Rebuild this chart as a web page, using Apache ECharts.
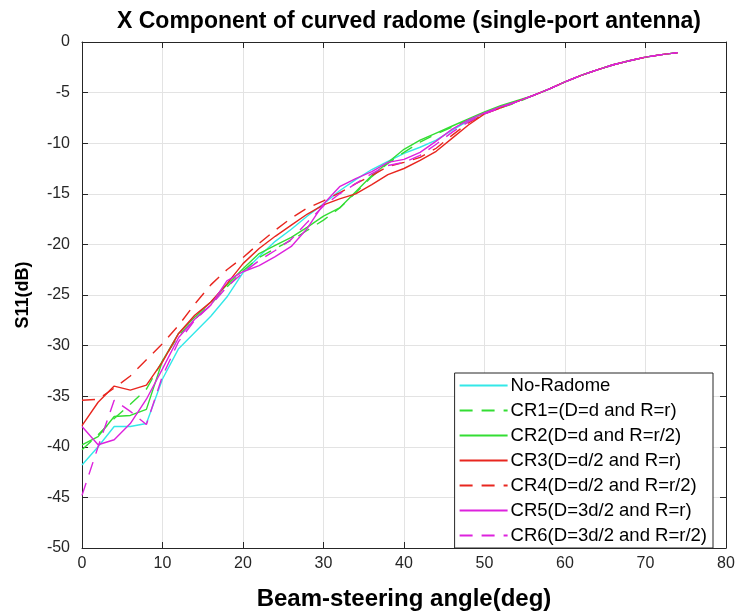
<!DOCTYPE html>
<html>
<head>
<meta charset="utf-8">
<script src="https://cdn.jsdelivr.net/npm/echarts@6/dist/echarts.min.js"></script>
<style>html,body{margin:0;padding:0;background:#fff;}#chart{width:740px;height:616px;}</style>
</head>
<body>
<div id="chart"></div>
<script>
const angles = [0,2,4,6,8,10,12,14,16,18,20,22,24,26,28,30,32,34,36,38,40,42,44,46,48,50,52,54,56,58,60,62,64,66,68,70,72,74];
const noRadome = [-41.8,-40.0,-38.0,-38.0,-37.7,-33.3,-30.3,-28.7,-27.1,-25.2,-22.8,-21.2,-19.7,-18.5,-17.2,-16.0,-14.7,-13.6,-12.6,-11.8,-11.0,-10.4,-9.7,-8.7,-7.8,-7.0,-6.4,-5.9,-5.3,-4.65,-3.95,-3.3,-2.75,-2.25,-1.85,-1.5,-1.25,-1.05];
const cr1 = [-40.3,-38.8,-37.2,-35.8,-34.3,-31.5,-29.0,-27.4,-25.9,-24.2,-22.6,-21.3,-20.4,-19.6,-18.6,-17.6,-16.4,-14.9,-13.3,-12.0,-10.9,-9.9,-9.1,-8.4,-7.7,-7.0,-6.5,-6.0,-5.3,-4.65,-3.95,-3.3,-2.75,-2.25,-1.85,-1.5,-1.25,-1.05];
const cr2 = [-39.8,-39.0,-37.0,-36.9,-36.3,-31.5,-28.8,-27.2,-25.7,-24.0,-22.4,-20.9,-20.1,-19.3,-18.3,-17.2,-16.4,-14.8,-13.2,-11.9,-10.6,-9.7,-9.0,-8.3,-7.6,-6.9,-6.3,-5.8,-5.3,-4.65,-3.95,-3.3,-2.75,-2.25,-1.85,-1.5,-1.25,-1.05];
const cr3 = [-37.9,-35.6,-34.0,-34.4,-33.9,-31.6,-28.8,-27.0,-25.7,-23.9,-21.9,-20.4,-19.2,-18.1,-17.0,-16.1,-15.5,-15.0,-14.1,-13.1,-12.5,-11.7,-10.8,-9.5,-8.2,-7.1,-6.5,-5.9,-5.3,-4.65,-3.95,-3.3,-2.75,-2.25,-1.85,-1.5,-1.25,-1.05];
const cr4 = [-35.4,-35.3,-34.2,-33.0,-31.4,-29.8,-28.0,-25.9,-24.0,-22.5,-21.3,-19.9,-18.6,-17.4,-16.4,-15.7,-14.9,-14.0,-13.2,-12.3,-11.9,-11.4,-10.5,-9.2,-8.0,-7.1,-6.5,-5.9,-5.3,-4.65,-3.95,-3.3,-2.75,-2.25,-1.85,-1.5,-1.25,-1.05];
const cr5 = [-38.0,-39.8,-39.3,-37.7,-35.3,-32.3,-29.2,-27.4,-26.0,-23.6,-22.7,-22.1,-21.2,-20.2,-18.4,-16.0,-14.3,-13.5,-12.8,-11.9,-11.6,-10.9,-9.8,-8.6,-7.7,-7.0,-6.4,-5.9,-5.3,-4.65,-3.95,-3.3,-2.75,-2.25,-1.85,-1.5,-1.25,-1.05];
const cr6 = [-44.8,-40.0,-35.4,-36.5,-37.8,-33.0,-29.6,-27.5,-26.0,-24.2,-22.8,-21.6,-20.6,-19.5,-17.8,-16.2,-15.0,-14.0,-13.0,-12.2,-11.9,-11.2,-10.1,-8.9,-7.9,-7.1,-6.5,-5.9,-5.3,-4.65,-3.95,-3.3,-2.75,-2.25,-1.85,-1.5,-1.25,-1.05];
const seriesNames = ['No-Radome','CR1=(D=d and R=r)','CR2(D=d and R=r/2)','CR3(D=d/2 and R=r)','CR4(D=d/2 and R=r/2)','CR5(D=3d/2 and R=r)','CR6(D=3d/2 and R=r/2)'];
const seriesValues = [noRadome, cr1, cr2, cr3, cr4, cr5, cr6];
const colors = ['#33e8e8','#33dd33','#33dd33','#e8261f','#e8261f','#dd22dd','#dd22dd'];
const dashed = [false,true,false,false,true,false,true];

const FONT = 'Liberation Sans, Arial, Helvetica, sans-serif';
const chart = echarts.init(document.getElementById('chart'), null, {renderer:'canvas'});

function pairs(v){ return angles.map((a,i)=>[a, v[i]]); }

const axisCommon = {
  axisLine:{show:true, onZero:false, lineStyle:{color:'#262626', width:1}},
  axisTick:{show:true, inside:true, length:6, lineStyle:{color:'#262626'}},
};

const option = {
  backgroundColor:'#fff',
  animation:false,
  title:{
    text:'X Component of curved radome (single-port antenna)',
    left:404, top:5, textAlign:'center',
    textStyle:{fontFamily:FONT, fontSize:23, fontWeight:'bold', color:'#000'}
  },
  grid:{left:82, right:14, top:42, bottom:64, containLabel:false},
  legend:{
    orient:'vertical', right:27, bottom:68,
    data:seriesNames,
    itemWidth:48, itemHeight:12, itemGap:6,
    itemStyle:{opacity:0},
    padding:[3,6,3,4],
    backgroundColor:'#fff', borderColor:'#262626', borderWidth:1,
    textStyle:{fontFamily:FONT, fontSize:18.5, color:'#000', padding:[0,0,0,-2]}
  },
  xAxis:[
    Object.assign({
      type:'value', min:0, max:80, interval:10, position:'bottom',
      name:'Beam-steering angle(deg)', nameLocation:'middle', nameGap:39,
      nameTextStyle:{fontFamily:FONT, fontSize:24, fontWeight:'bold', color:'#000'},
      axisLabel:{fontFamily:FONT, fontSize:16, color:'#262626', margin:8},
      splitLine:{show:true, lineStyle:{color:'#e3e3e3', width:1}}
    }, axisCommon),
    Object.assign({
      type:'value', min:0, max:80, interval:10, position:'top',
      axisLabel:{show:false}, splitLine:{show:false}
    }, axisCommon)
  ],
  yAxis:[
    Object.assign({
      type:'value', min:-50, max:0, interval:5, position:'left',
      name:'S11(dB)', nameLocation:'middle', nameGap:50, nameRotate:90,
      nameTextStyle:{fontFamily:FONT, fontSize:18, fontWeight:'bold', color:'#000'},
      axisLabel:{fontFamily:FONT, fontSize:16, color:'#262626', margin:12},
      splitLine:{show:true, lineStyle:{color:'#e3e3e3', width:1}}
    }, axisCommon),
    Object.assign({
      type:'value', min:-50, max:0, interval:5, position:'right',
      axisLabel:{show:false}, splitLine:{show:false}
    }, axisCommon)
  ],
  series: seriesNames.map((n,i)=>({
    name:n, type:'line', data:pairs(seriesValues[i]),
    xAxisIndex:0, yAxisIndex:0,
    showSymbol:false, symbol:'none', smooth:false,
    lineStyle:{color:colors[i], width:1.4, type: dashed[i] ? [13,9] : 'solid'},
    itemStyle:{color:colors[i]}
  }))
};
chart.setOption(option);
</script>
</body>
</html>
